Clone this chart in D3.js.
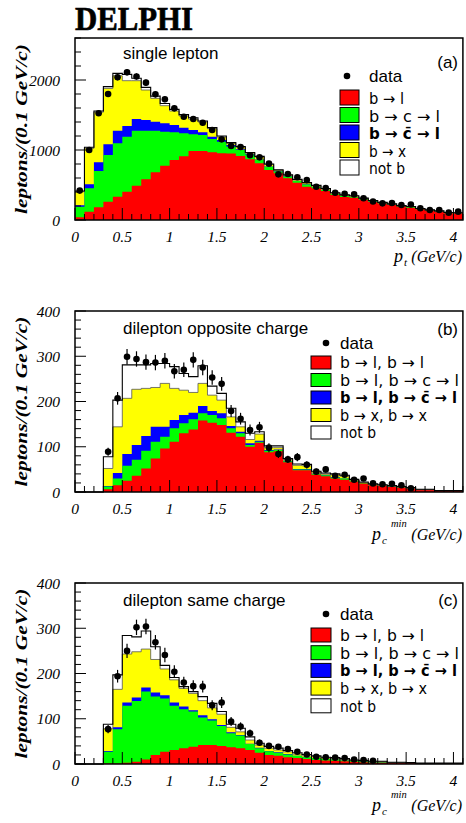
<!DOCTYPE html>
<html>
<head>
<meta charset="utf-8">
<script src="https://cdn.jsdelivr.net/npm/d3@7/dist/d3.min.js"></script>
<style>
  body { margin: 0; background: #fff; }
  svg { display: block; }
  .serif { font-family: "Liberation Serif", "Times New Roman", serif; }
  .sans { font-family: "Liberation Sans", Arial, Helvetica, sans-serif; }
</style>
</head>
<body>
<svg id="chart" width="466" height="823"></svg>
<script>
// ---- bins: lower edges, width 0.1 GeV/c ----
const binLow = [0.0,0.1,0.2,0.3,0.4,0.5,0.6,0.7,0.8,0.9,1.0,1.1,1.2,1.3,1.4,1.5,1.6,1.7,1.8,1.9,
                2.0,2.1,2.2,2.3,2.4,2.5,2.6,2.7,2.8,2.9,3.0,3.1,3.2,3.3,3.4,3.5,3.6,3.7,3.8,3.9,4.0];
const binWidth = 0.1;

// ---- (a) single lepton ----
const aRed    = [40,119,181,262,333,405,490,581,681,776,857,910,986,986,967,952,950,914,867,810,714,667,595,533,476,452,414,357,330,318,290,258,236,214,192,176,152,134,120,98,96];
const aGreen  = [150,333,519,667,762,785,786,695,595,486,395,328,238,228,190,167,100,86,70,50,45,25,25,25,30,20,15,15,14,12,10,9,8,8,7,10,5,5,4,4,3];
const aBlue   = [20,58,124,152,181,153,167,153,129,119,105,81,62,38,33,24,20,10,8,6,5,4,4,3,3,3,2,2,2,2,2,2,1,1,1,1,1,1,1,1,1];
const aYellow = [195,514,716,799,784,647,547,428,333,252,200,167,154,148,115,42,25,30,12,35,30,15,15,15,20,15,14,12,10,12,8,6,5,5,4,4,4,3,3,3,3];
const aNotB   = [10,16,17,25,35,90,35,38,32,32,23,19,20,15,15,15,10,10,8,8,6,5,5,5,5,4,4,4,3,3,3,3,2,2,2,2,2,2,2,1,1];
const aData   = [420,1000,1524,1800,2040,2110,2050,1962,1795,1724,1595,1476,1443,1390,1286,1152,1057,1043,926,895,805,652,657,610,570,476,455,390,376,366,310,265,238,243,214,221,167,143,143,105,119];
const aErr    = [20,32,39,42,45,46,45,44,42,42,40,38,38,37,36,34,33,32,30,30,28,26,26,25,24,22,21,20,19,19,18,16,15,16,15,15,13,12,12,10,11];

// ---- (b) dilepton opposite charge ----
const bRed    = [0,0,0,6,15,25,36,52,74,96,111,130,138,158,153,148,131,122,100,109,88,90,66,48,48,38,35,30,27,23,19,15,13,11,10,8,5,5,2,2,2];
const bGreen  = [0,0,0,6,15,33,35,39,37,26,30,22,23,16,17,15,10,8,4,2,3,3,2,2,2,2,2,2,3,2,1,1,1,1,1,0,0,0,1,1,1];
const bBlue   = [0,0,0,1,12,26,33,33,33,22,18,18,14,16,9,11,5,3,4,2,2,1,1,1,1,1,1,1,0,0,0,0,0,0,0,0,0,0,0,0,0];
const bYellow = [0,0,0,39,102,123,123,105,87,96,70,55,45,50,35,29,20,11,8,15,5,4,3,8,7,3,2,5,5,2,1,1,1,1,0,1,0,0,0,0,0];
const bNotB   = [0,0,0,26,59,74,54,52,53,44,48,37,35,39,20,15,19,11,14,5,4,4,2,3,3,2,2,2,2,1,1,1,1,1,1,1,1,1,0,0,0];
const bData   = [null,null,null,89,207,299,294,287,286,290,267,270,292,275,253,239,179,162,137,143,98,84,72,77,60,45,50,36,38,27,30,19,17,18,15,8,null,null,null,null,null];
const bErr    = [0,0,0,9,14,17,17,17,17,17,16,16,17,17,16,15,13,13,12,12,10,9,8,9,8,7,7,6,6,5,5,4,4,4,4,3,0,0,0,0,0];

// ---- (c) dilepton same charge ----
const cRed    = [0,0,0,1,1,3,5,10,20,27,31,35,38,42,42,40,37,35,31,25,20,18,15,13,11,9,8,7,6,5,4,3,3,2,2,2,1,1,1,1,1];
const cGreen  = [0,0,0,26,76,126,134,150,129,118,98,86,78,61,54,44,31,28,13,10,8,7,6,5,4,4,3,3,2,2,2,1,1,1,1,0,0,0,0,0,0];
const cBlue   = [0,0,0,2,4,7,8,9,9,7,7,6,3,5,3,2,2,1,1,1,1,1,1,0,0,0,0,0,0,0,0,0,0,0,0,0,0,0,0,0,0];
const cYellow = [0,0,0,49,84,107,101,85,73,58,50,40,37,32,25,24,11,7,8,6,6,5,5,4,3,3,2,2,2,1,1,1,1,0,0,0,0,0,0,0,0];
const cNotB   = [0,0,0,10,32,41,33,40,28,8,5,4,4,9,10,6,7,8,7,4,4,4,3,3,3,2,2,2,2,1,1,1,1,1,1,1,1,1,1,1,1];
const cData   = [null,null,null,77,194,250,302,304,269,241,204,180,172,171,130,136,94,83,68,47,40,38,33,27,21,16,15,14,13,10,9,7,null,null,null,null,null,null,null,null,null];
const cErr    = [0,0,0,9,14,16,17,17,16,16,14,13,13,13,11,12,10,9,8,7,6,6,6,5,5,4,4,4,4,3,3,3,0,0,0,0,0,0,0,0,0];

// ---- axis labels ----
const xTickLabels = ["0","0.5","1","1.5","2","2.5","3","3.5","4"];
const xTickValues = [0,0.5,1,1.5,2,2.5,3,3.5,4];
const yTicksA = [0,1000,2000];
const yTicksBC = [0,100,200,300,400];

const legendA  = ["b \u2192 l", "b \u2192 c \u2192 l", "b \u2192 c\u0304 \u2192 l", "b \u2192 x", "not b"];
const legendBC = ["b \u2192 l, b \u2192 l", "b \u2192 l, b \u2192 c \u2192 l", "b \u2192 l, b \u2192 c\u0304 \u2192 l", "b \u2192 x, b \u2192 x", "not b"];

const layerKeys = ["red","green","blue","yellow","notb"];
const layerColors = { red: "#ff0000", green: "#00ff00", blue: "#0000ff", yellow: "#ffff00", notb: "#ffffff" };

const svg = d3.select("#chart");
const x = d3.scaleLinear().domain([0, 4.1]).range([75, 462.9]);

// Title
svg.append("text").attr("class", "serif")
  .attr("x", 75).attr("y", 30)
  .attr("font-size", 33.5).attr("font-weight", "bold")
  .attr("textLength", 118).attr("lengthAdjust", "spacingAndGlyphs")
  .attr("stroke", "#000").attr("stroke-width", 0.7)
  .text("DELPHI");

function drawPanel(p) {
  const y = d3.scaleLinear().domain([0, p.yMax]).range([p.bottom, p.top]);
  const g = svg.append("g");

  const rows = binLow.map((lo, i) => {
    const r = { lo };
    layerKeys.forEach((k, j) => r[k] = p.series[j][i]);
    return r;
  });
  const stacked = d3.stack().keys(layerKeys)(rows);

  // step points for a cumulative level (ends at the upper edge of the last bin)
  const stepPts = layer => {
    const pts = layer.map((d, i) => ({ x: binLow[i], v: d[1] }));
    pts.push({ x: binLow[binLow.length - 1] + binWidth, v: pts[pts.length - 1].v });
    return pts;
  };
  const area = d3.area().curve(d3.curveStepAfter)
    .x(d => x(d.x)).y0(y(0)).y1(d => y(d.v));
  const line = d3.line().curve(d3.curveStepAfter)
    .x(d => x(d.x)).y(d => y(d.v));

  // paint cumulative fills from the top-most layer down, so neighbours never leave seams
  stacked.slice().reverse().forEach(layer => {
    g.append("path").attr("d", area(stepPts(layer)))
      .attr("fill", layerColors[layer.key]).attr("stroke", "none");
  });
  // outline of the b -> x level and of the full prediction
  g.append("path").attr("d", line(stepPts(stacked[3])))
    .attr("fill", "none").attr("stroke", "#555").attr("stroke-width", 0.8);
  g.append("path").attr("d", line(stepPts(stacked[4])))
    .attr("fill", "none").attr("stroke", "#000").attr("stroke-width", 1.1);

  // bottom ticks (inside)
  d3.range(0, 42).forEach(i => {
    const v = i / 10;
    const major = i % 5 === 0;
    g.append("line").attr("x1", x(v)).attr("x2", x(v))
      .attr("y1", p.bottom).attr("y2", p.bottom - (major ? 12 : 6))
      .attr("stroke", "#000").attr("stroke-width", 1);
  });
  // left ticks (inside)
  d3.range(0, p.yMax + 1, p.minorStep).forEach(v => {
    const major = v % p.majorStep === 0;
    g.append("line").attr("x1", x(0)).attr("x2", x(0) + (major ? 11 : 6))
      .attr("y1", y(v)).attr("y2", y(v))
      .attr("stroke", "#000").attr("stroke-width", 1);
  });

  // frame
  g.append("rect").attr("x", x(0)).attr("y", p.top)
    .attr("width", x(4.1) - x(0)).attr("height", p.bottom - p.top)
    .attr("fill", "none").attr("stroke", "#000").attr("stroke-width", 1.5);

  // data points with errors
  binLow.forEach((lo, i) => {
    const v = p.data[i];
    if (v === null) return;
    const cx = x(lo + binWidth / 2);
    g.append("line").attr("x1", cx).attr("x2", cx)
      .attr("y1", y(v - p.err[i])).attr("y2", y(v + p.err[i]))
      .attr("stroke", "#000").attr("stroke-width", 1.2);
    g.append("circle").attr("cx", cx).attr("cy", y(v)).attr("r", 3.3).attr("fill", "#000");
  });

  // y tick labels
  p.yTicks.forEach(v => {
    g.append("text").attr("class", "serif")
      .attr("x", 60).attr("y", y(v)).attr("dy", "0.36em")
      .attr("text-anchor", "end").attr("font-style", "italic").attr("font-size", 15.5)
      .text(v);
  });
  // x tick labels
  xTickValues.forEach((v, i) => {
    g.append("text").attr("class", "serif")
      .attr("x", x(v)).attr("y", p.bottom + 21.5)
      .attr("text-anchor", "middle").attr("font-style", "italic").attr("font-size", 15.5)
      .text(xTickLabels[i]);
  });

  // y axis title
  const yc = (p.top + p.bottom) / 2;
  g.append("text").attr("class", "serif")
    .attr("transform", `translate(27,${yc}) rotate(-90)`)
    .attr("text-anchor", "middle").attr("font-style", "italic").attr("font-weight", "bold")
    .attr("font-size", 16).attr("textLength", 170).attr("lengthAdjust", "spacingAndGlyphs")
    .text("leptons/(0.1 GeV/c)");

  // x axis title
  const tb = p.bottom + p.titleOffset;
  const xt = g.append("g").attr("class", "serif").attr("font-style", "italic");
  if (p.sub === "t") {
    xt.append("text").attr("x", 394).attr("y", tb).attr("font-size", 18).text("p");
    xt.append("text").attr("x", 404).attr("y", tb + 4).attr("font-size", 11).text("t");
  } else {
    xt.append("text").attr("x", 372).attr("y", tb).attr("font-size", 18).text("p");
    xt.append("text").attr("x", 382).attr("y", tb + 4).attr("font-size", 11).text("c");
    xt.append("text").attr("x", 391).attr("y", tb - 13).attr("font-size", 10.5).text("min");
  }
  xt.append("text").attr("x", 462).attr("y", tb).attr("text-anchor", "end")
    .attr("font-size", 16).text("(GeV/c)");

  // panel caption and tag
  g.append("text").attr("class", "sans").attr("x", 123).attr("y", p.captionY)
    .attr("font-size", 17).text(p.caption);
  g.append("text").attr("class", "sans").attr("x", 458).attr("y", p.tagY)
    .attr("text-anchor", "end").attr("font-size", 17).text(p.tag);

  // legend
  const L = p.legend;
  g.append("circle").attr("cx", L.markX).attr("cy", L.dataY).attr("r", 3.3).attr("fill", "#000");
  g.append("text").attr("class", "sans").attr("x", L.textX).attr("y", L.dataY + 6)
    .attr("font-size", 17).text("data");
  L.labels.forEach((lab, i) => {
    const top = L.rowTop + i * L.rowStep;
    g.append("rect").attr("x", L.boxX).attr("y", top).attr("width", L.boxW).attr("height", L.boxH)
      .attr("fill", layerColors[layerKeys[i]]).attr("stroke", "#000").attr("stroke-width", 1);
    g.append("text").attr("x", L.textX).attr("y", top + L.boxH - 1)
      .attr("font-family", "'DejaVu Sans Condensed', 'DejaVu Sans', sans-serif")
      .attr("font-size", 15.5).attr("font-weight", i === 2 ? "bold" : "normal")
      .attr("textLength", p.legendWidths[i]).attr("lengthAdjust", "spacingAndGlyphs")
      .text(lab);
  });
}

drawPanel({
  top: 38, bottom: 220, yMax: 2600, majorStep: 1000, minorStep: 200, yTicks: yTicksA,
  series: [aRed, aGreen, aBlue, aYellow, aNotB], data: aData, err: aErr,
  caption: "single lepton", captionY: 59, tag: "(a)", tagY: 68, sub: "t", titleOffset: 42,
  legendWidths: [35, 71, 71, 37, 36],
  legend: { markX: 347, dataY: 76, textX: 369, boxX: 340, boxW: 19, boxH: 15, rowTop: 90, rowStep: 17.5, labels: legendA }
});
drawPanel({
  top: 311, bottom: 492, yMax: 400, majorStep: 100, minorStep: 20, yTicks: yTicksBC,
  series: [bRed, bGreen, bBlue, bYellow, bNotB], data: bData, err: bErr,
  caption: "dilepton opposite charge", captionY: 334, tag: "(b)", tagY: 335, sub: "c", titleOffset: 48,
  legendWidths: [84, 119, 117, 87, 36],
  legend: { markX: 326, dataY: 343, textX: 340, boxX: 311, boxW: 20, boxH: 13, rowTop: 356, rowStep: 17.5, labels: legendBC }
});
drawPanel({
  top: 583, bottom: 764, yMax: 400, majorStep: 100, minorStep: 20, yTicks: yTicksBC,
  series: [cRed, cGreen, cBlue, cYellow, cNotB], data: cData, err: cErr,
  caption: "dilepton same charge", captionY: 606, tag: "(c)", tagY: 606, sub: "c", titleOffset: 47,
  legendWidths: [84, 119, 117, 87, 36],
  legend: { markX: 326, dataY: 614, textX: 340, boxX: 311, boxW: 20, boxH: 14, rowTop: 628, rowStep: 17.7, labels: legendBC }
});
</script>
</body>
</html>
